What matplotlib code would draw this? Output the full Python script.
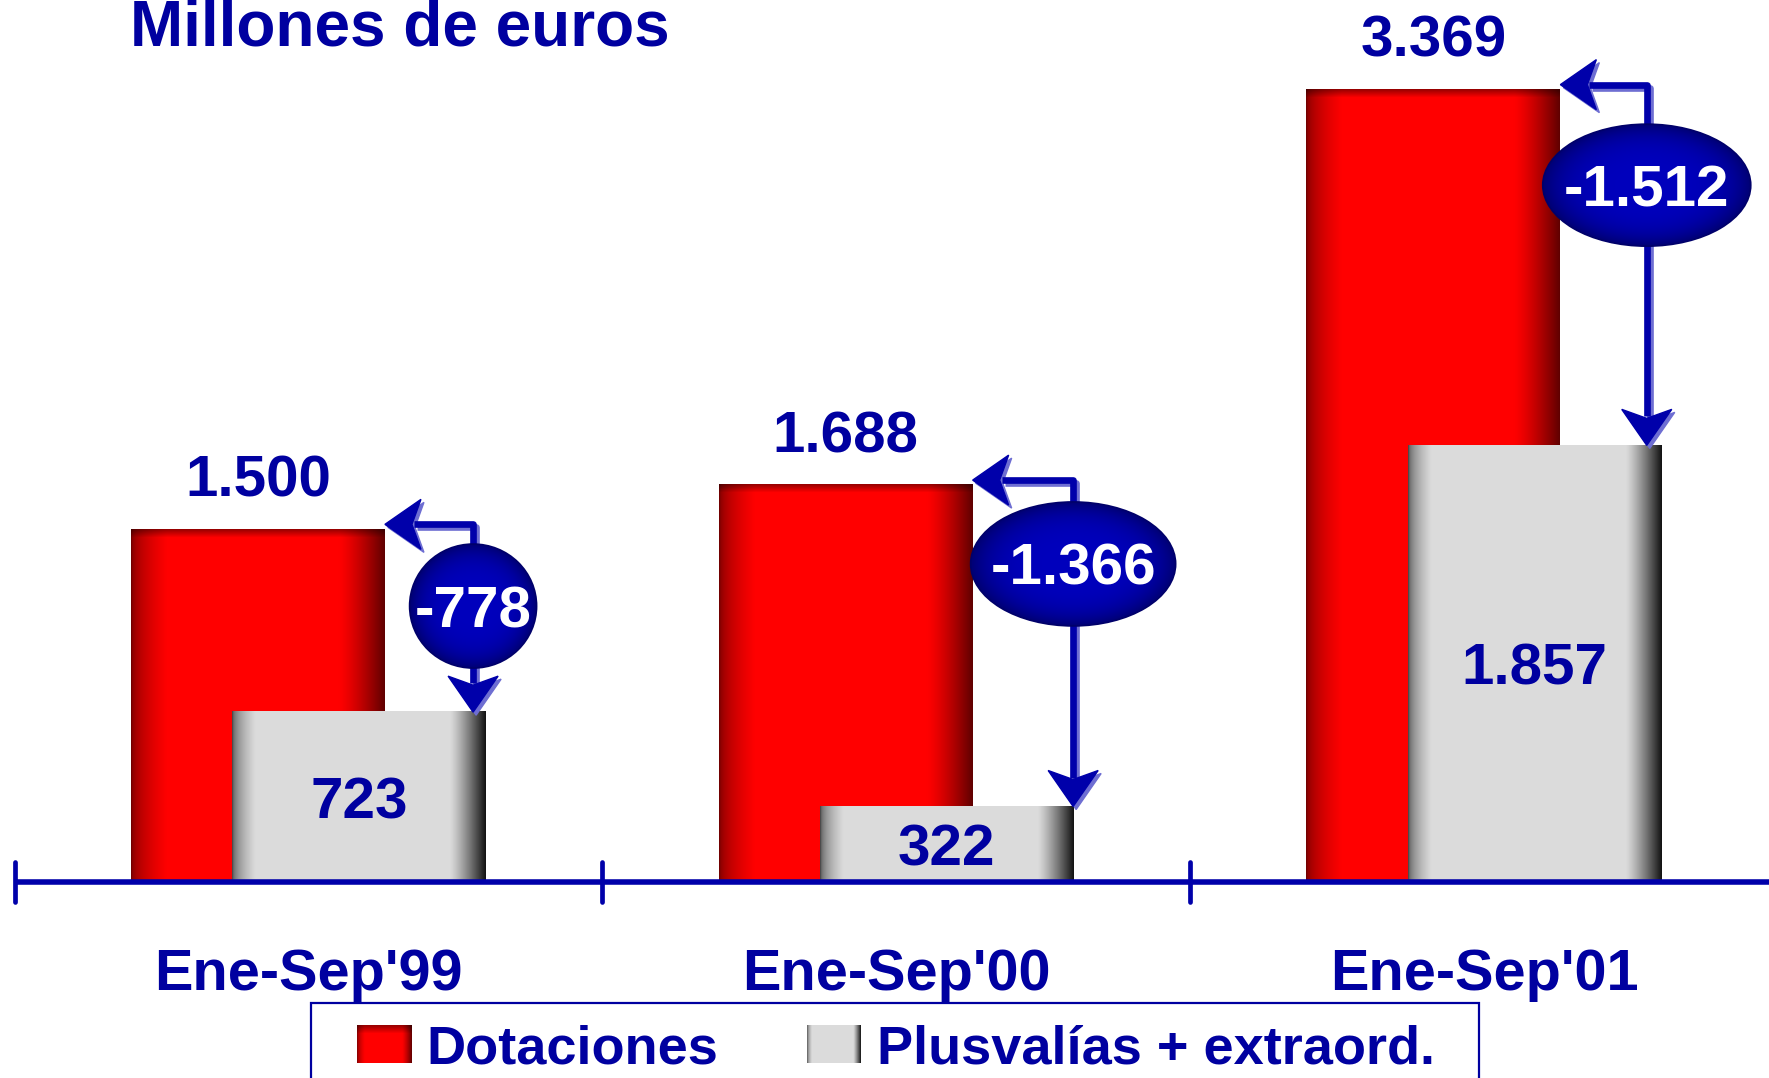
import numpy as np
import matplotlib
matplotlib.use("Agg")
import matplotlib.pyplot as plt
from matplotlib.patches import Ellipse, Rectangle, Polygon

categories = ["Ene-Sep'99", "Ene-Sep'00", "Ene-Sep'01"]
dotaciones = [1500, 1688, 3369]
plusvalias = [723, 322, 1857]
diferencias = [-778, -1366, -1512]   # as printed on the chart
legend_labels = ["Dotaciones", "Plusvalías + extraord."]
title = "Millones de euros"

# canvas / axes layout (pixels on a 1769x1078 canvas)
W, H = 1769, 1078
X0, X1 = -0.525, 2.485
Y0, Y1 = -832, 3750
SX = W / (X1 - X0)   # px per x unit
SY = H / (Y1 - Y0)   # px per y unit
PT = 0.72            # points per pixel at dpi 100

BLUE = "#0000A0"
LINE = "#0000AA"
SHADOW = "#6e6ed2"
FONT = ["Liberation Sans", "DejaVu Sans"]

# bubble placement (data x, data y) and size in px
bubble_xy = [(0.280, 1174), (1.301, 1353), (2.277, 2963)]
bubble_px = [(127, 124), (205, 124), (208, 122)]

plt.rcParams["font.family"] = FONT
plt.rcParams["font.weight"] = "bold"


def fmt(v):
    return f"{v:,}".replace(",", ".")


def bar_gradient(kind, h_px, n=220):
    t = np.linspace(0, 1, n)
    rows = max(int(h_px), 2)
    if kind == "red":
        f = np.ones(n)
        f = np.where(t < 0.14, 0.45 + 0.55 * np.sqrt(t / 0.14), f)
        f = np.where(t > 0.82, 1 - 0.62 * ((t - 0.82) / 0.18) ** 1.3, f)
        v = np.ones(rows)
        k = min(9, rows)
        v[:k] = np.linspace(0.6, 1, k)
        r = v[:, None] * f[None, :]
        img = np.stack([r, np.zeros_like(r), np.zeros_like(r)], axis=-1)
    else:
        g = np.full(n, 0.86)
        g = np.where(t < 0.09, 0.3 + 0.56 * np.sqrt(t / 0.09), g)
        g = np.where(t > 0.86, 0.86 - 0.78 * ((t - 0.86) / 0.14) ** 1.2, g)
        img = np.repeat(np.stack([g, g, g], axis=-1)[None, :, :], 2, axis=0)
    return np.clip(img, 0, 1)


fig = plt.figure(figsize=(W / 100, H / 100), dpi=100)
ax = fig.add_axes([0, 0, 1, 1])
ax.axis("off")

x = np.arange(len(categories))
red_bars = ax.bar(x - 0.086, dotaciones, 0.432, color="none", lw=0, zorder=2)
grey_bars = ax.bar(x + 0.086, plusvalias, 0.432, color="none", lw=0, zorder=3)

for bars, kind, z in [(red_bars, "red", 2), (grey_bars, "grey", 3)]:
    for b in bars:
        bx, bw, bh = b.get_x(), b.get_width(), b.get_height()
        ax.imshow(bar_gradient(kind, bh * SY), extent=[bx, bx + bw, 0, bh],
                  aspect="auto", interpolation="bilinear", zorder=z)

# baseline with ticks
ax.plot([-0.5, X1], [0, 0], color=LINE, lw=4.0, solid_capstyle="butt", zorder=4)
for t in [-0.5, 0.5, 1.5]:
    ax.plot([t, t], [-20 / SY, 20 / SY], color=LINE, lw=3.4,
            solid_capstyle="round", zorder=4)

# value labels
for b, v in zip(red_bars, dotaciones):
    ax.annotate(fmt(v), (b.get_x() + b.get_width() / 2, v), xytext=(0, 33 * PT),
                textcoords="offset points", ha="center", va="baseline",
                fontsize=42, color=BLUE, zorder=7)
for b, v in zip(grey_bars, plusvalias):
    ax.annotate(fmt(v), (b.get_x() + b.get_width() / 2, v / 2), xytext=(0, -21 * PT),
                textcoords="offset points", ha="center", va="baseline",
                fontsize=42, color=BLUE, zorder=7)

# category labels
for i, cat in enumerate(categories):
    ax.text(i, -(990 - 882.3) / SY, cat, ha="center", va="baseline",
            fontsize=41.5, color=BLUE)


def connector(pts, d, color, off=(0, 0), z=5):
    ox, oy = off[0] / SX, off[1] / SY
    tip = pts[-1]
    L, Wd, N = 36, 25, 27
    dx, dy = d
    nx, ny = -dy, dx

    def P(a, b):
        return (tip[0] + (a * dx + b * nx) / SX + ox,
                tip[1] + (a * dy + b * ny) / SY + oy)

    head = [P(0, 0), P(-L, Wd), P(-N, 0), P(-L, -Wd)]
    xs = [p[0] + ox for p in pts[:-1]] + [P(-N - 2, 0)[0]]
    ys = [p[1] + oy for p in pts[:-1]] + [P(-N - 2, 0)[1]]
    ax.plot(xs, ys, color=color, lw=4.8, solid_joinstyle="round",
            solid_capstyle="butt", zorder=z)
    ax.add_patch(Polygon(head, closed=True, facecolor=color, edgecolor=color,
                         lw=1.0, joinstyle="miter", zorder=z))


for i, ((xe, ye), (wp, hp)) in enumerate(zip(bubble_xy, bubble_px)):
    rb = red_bars[i]
    y_line = dotaciones[i] + 5 / SY
    up = [(xe, ye), (xe, y_line), (rb.get_x() + rb.get_width(), y_line)]
    down = [(xe, ye), (xe, plusvalias[i])]
    for pts, d in [(up, (-1, 0)), (down, (0, -1))]:
        connector(pts, d, SHADOW, off=(3, -3), z=4.5)
        connector(pts, d, LINE, z=5)

    w, h = wp / SX, hp / SY
    ell = Ellipse((xe, ye), w, h, facecolor="none", edgecolor="#00006a",
                  lw=1.2, zorder=6.5)
    ax.add_patch(ell)
    gx, gy = np.meshgrid(np.linspace(-1, 1, 120), np.linspace(-1, 1, 120))
    r = np.clip(np.sqrt(gx ** 2 + gy ** 2), 0, 1)
    b_ch = 0.74 - 0.28 * r ** 4
    img = np.stack([np.zeros_like(r), np.zeros_like(r), b_ch], axis=-1)
    im = ax.imshow(img, extent=[xe - w / 2, xe + w / 2, ye - h / 2, ye + h / 2],
                   aspect="auto", interpolation="bilinear", zorder=6)
    im.set_clip_path(ell)
    ax.annotate(fmt(diferencias[i]), (xe, ye), xytext=(0, -21 * PT),
                textcoords="offset points", ha="center", va="baseline",
                fontsize=42, color="white", zorder=7)

ax.set_xlim(X0, X1)
ax.set_ylim(Y0, Y1)

# title
fig.text(130 / W, 1 - 45 / H, title, ha="left", va="baseline",
         fontsize=46, color=BLUE)

# legend drawn by hand (box runs off the bottom edge)
fig.add_artist(Rectangle((311 / W, -0.05), (1479 - 311) / W, (1078 - 1003) / H + 0.05,
                         transform=fig.transFigure, fill=False, edgecolor=BLUE,
                         lw=1.6))
for (px0, px1, tx), kind, label in zip([(357, 412, 426), (807, 861, 877)],
                                       ["red", "grey"], legend_labels):
    lax = fig.add_axes([px0 / W, 1 - 1063 / H, (px1 - px0) / W, 38 / H])
    lax.imshow(bar_gradient(kind, 38), aspect="auto", interpolation="bilinear")
    lax.axis("off")
    fig.text(tx / W, 1 - 1063 / H, label, ha="left", va="baseline",
             fontsize=39, color=BLUE)

fig.savefig("out.png", dpi=100)
